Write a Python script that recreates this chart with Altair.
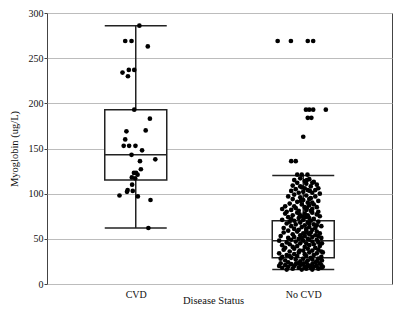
import altair as alt
import pandas as pd

FONT = "Liberation Serif"

groups = ["CVD", "No CVD"]
group_pos = [0.5, 1.5]

# box-plot summary
whisker_low = [62, 16]
q1 = [115, 29]
median = [143, 48]
q3 = [193, 70]
whisker_high = [286, 120]

# individual observations (value, horizontal jitter in box half-widths)
cvd_values = [286, 269, 269, 263, 237, 237, 234, 230, 193, 183, 170, 169, 160, 153, 153, 153, 148,
              143, 138, 136, 127, 123, 123, 121, 118, 117, 110, 104, 102, 103, 98, 97, 93, 62]
cvd_jitter = [0.12, -0.35, -0.14, 0.40, -0.23, -0.05, -0.44, -0.26, -0.05, 0.47, 0.33, -0.31, -0.35,
              -0.40, -0.22, -0.01, 0.21, -0.14, 0.65, 0.14, 0.17, -0.06, 0.01, 0.06, -0.13, -0.02,
              -0.12, -0.27, -0.29, -0.10, -0.54, 0.07, 0.49, 0.42]

nocvd_points = [
    (269, -0.85), (269, -0.41), (269, 0.15), (269, 0.33),
    (193, 0.09), (193, 0.20), (193, 0.33), (193, 0.75), (184, 0.15), (184, 0.27), (163, 0.0),
    (136, -0.40), (136, -0.25), (121, -0.20), (121, -0.05), (121, 0.14),
    (117, -0.1), (116, 0.2), (115, -0.3), (114, 0.05), (113, 0.35), (112, -0.2), (111, 0.1),
    (110, 0.45), (109, -0.35), (108, 0.25), (107, -0.05), (106, 0.5), (105, -0.25), (104, 0.15),
    (104, 0.4), (103, -0.4), (102, 0.0), (101, 0.3), (101, -0.15), (100, 0.55), (112, 0.3),
    (108, -0.1), (106, 0.05), (103, 0.22), (115, 0.12),
    (99, -0.3), (98, 0.1), (97, 0.4), (97, -0.5), (96, -0.1), (95, 0.25), (94, -0.35), (93, 0.0),
    (92, 0.5), (91, -0.2), (90, 0.15), (89, -0.45), (88, 0.35), (88, -0.05), (87, 0.2), (86, -0.6),
    (85, 0.05), (85, 0.45), (84, -0.25), (83, 0.3), (82, -0.4), (82, 0.1), (81, -0.15), (80, 0.5),
    (80, -0.55), (90, 0.3), (86, -0.3), (84, 0.12), (94, 0.2), (92, -0.08), (83, -0.7), (81, 0.25),
    (79, -0.2), (79, 0.3), (78, -0.6), (78, 0.05), (77, 0.45), (76, -0.35), (76, 0.15), (75, -0.05),
    (75, 0.55), (74, -0.5), (73, 0.2), (73, -0.15), (72, 0.35), (71, -0.7), (71, 0.0), (70, 0.25),
    (70, -0.3), (69, 0.5), (68, -0.1), (68, 0.15), (67, -0.55), (66, 0.35), (66, -0.25), (65, 0.05),
    (64, 0.6), (64, -0.4), (63, 0.2), (63, -0.05), (62, -0.65), (62, 0.4), (61, 0.1), (61, -0.3),
    (60, 0.3), (60, -0.15), (74, 0.08), (69, -0.45), (65, 0.45), (77, -0.12), (72, -0.4), (67, 0.2),
    (59, -0.5), (59, 0.1), (58, 0.45), (58, -0.2), (57, 0.25), (57, -0.65), (56, 0.0), (56, 0.55),
    (55, -0.35), (55, 0.2), (54, -0.1), (54, 0.4), (53, -0.75), (53, 0.05), (52, 0.3), (52, -0.3),
    (51, 0.6), (51, -0.5), (50, 0.15), (50, -0.15), (49, 0.45), (49, -0.4), (48, 0.0), (48, -0.8),
    (47, 0.3), (47, -0.25), (46, 0.5), (46, -0.55), (45, 0.1), (45, -0.1), (44, 0.35), (44, -0.45),
    (43, 0.2), (43, -0.7), (42, 0.55), (42, -0.2), (41, 0.05), (41, -0.35), (40, 0.4), (40, -0.6),
    (57, 0.12), (53, 0.5), (49, 0.2), (45, 0.62), (51, -0.05),
    (39, 0.15), (39, -0.3), (38, 0.5), (38, -0.65), (37, 0.0), (37, 0.3), (36, -0.45), (36, 0.6),
    (35, -0.15), (35, 0.2), (34, -0.8), (34, 0.45), (33, -0.3), (33, 0.05), (32, 0.35), (32, -0.55),
    (31, 0.1), (31, -0.2), (30, 0.6), (30, -0.7), (29, 0.25), (29, -0.4), (28, 0.0), (28, 0.5),
    (27, -0.25), (27, 0.3), (26, -0.6), (26, 0.15), (25, 0.45), (25, -0.1), (35, 0.65), (31, -0.45),
    (28, -0.75), (37, -0.12), (26, 0.62),
    (24, -0.5), (24, 0.1), (24, 0.4), (23, -0.2), (23, 0.55), (23, -0.75), (22, 0.0), (22, 0.3),
    (22, -0.4), (21, 0.6), (21, -0.1), (21, -0.6), (20, 0.2), (20, -0.3), (20, 0.45), (20, -0.8),
    (19, 0.05), (19, -0.5), (19, 0.35), (18, -0.15), (18, 0.6), (18, -0.7), (18, 0.25), (17, -0.35),
    (17, 0.1), (17, 0.5), (16, -0.05), (16, -0.55), (16, 0.3), (19, 0.65), (22, -0.25), (21, 0.15),
]

y_ticks = [0, 50, 100, 150, 200, 250, 300]

# ---- tables ----
box_df = pd.DataFrame({
    "group": groups, "pos": group_pos, "lo": whisker_low, "q1": q1,
    "median": median, "q3": q3, "hi": whisker_high,
})
pts = [{"group": "CVD", "value": v, "jitter": j} for v, j in zip(cvd_values, cvd_jitter)]
pts += [{"group": "No CVD", "value": v, "jitter": j} for v, j in nocvd_points]
pts_df = pd.DataFrame(pts)

W, H = 345, 271
BOX_PX = 62
half_box_units = (BOX_PX / 2) / W * 2  # data units per box half-width

xscale = alt.Scale(domain=[0, 2], nice=False, zero=False)
yscale = alt.Scale(domain=[0, 300], nice=False)

x_axis = alt.Axis(
    values=group_pos, title="Disease Status",
    labelExpr="datum.value < 1 ? 'CVD' : 'No CVD'",
    grid=False, ticks=False, domain=False, labelPadding=5,
    titleX=166, titleY=19, titleBaseline="alphabetic", titleAlign="center",
)
y_axis = alt.Axis(
    values=y_ticks, title="Myoglobin (ug/L)", grid=True, gridColor="#bcbcbc",
    domain=False, tickSize=3, tickColor="#444", labelPadding=1, titlePadding=9,
)

base = alt.Chart(box_df)

whisk = base.mark_rule(color="#222", strokeWidth=1.5).encode(
    x=alt.X("pos:Q", scale=xscale, axis=x_axis),
    y=alt.Y("lo:Q", scale=yscale, axis=y_axis),
    y2="hi:Q",
)
box = base.mark_bar(size=BOX_PX, fill="white", stroke="#222", strokeWidth=1.5).encode(
    x=alt.X("pos:Q", scale=xscale),
    y=alt.Y("q1:Q", scale=yscale),
    y2="q3:Q",
)
med = base.mark_tick(orient="horizontal", size=BOX_PX, thickness=1.5, color="#222", opacity=1).encode(
    x=alt.X("pos:Q", scale=xscale), y=alt.Y("median:Q", scale=yscale))
cap_lo = base.mark_tick(orient="horizontal", size=BOX_PX, thickness=1.5, color="#222", opacity=1).encode(
    x=alt.X("pos:Q", scale=xscale), y=alt.Y("lo:Q", scale=yscale))
cap_hi = base.mark_tick(orient="horizontal", size=BOX_PX, thickness=1.5, color="#222", opacity=1).encode(
    x=alt.X("pos:Q", scale=xscale), y=alt.Y("hi:Q", scale=yscale))

points = alt.Chart(pts_df).transform_calculate(
    xp=f"(datum.group == 'CVD' ? 0.5 : 1.5) + datum.jitter * {half_box_units}"
).mark_circle(size=22, color="black", opacity=1).encode(
    x=alt.X("xp:Q", scale=xscale),
    y=alt.Y("value:Q", scale=yscale),
)

chart = alt.layer(whisk, box, med, cap_lo, cap_hi, points).properties(
    width=W, height=H,
    padding={"left": 39, "top": 5, "right": 1, "bottom": 21},
    autosize=alt.AutoSizeParams(type="none"),
).configure(
    font=FONT,
).configure_view(
    stroke="#444", strokeWidth=1,
).configure_axis(
    labelFont=FONT, titleFont=FONT, labelFontSize=10, titleFontSize=10.5,
    titleFontWeight="normal", labelColor="#111", titleColor="#111",
)

chart.save("out.html", embed_options={"renderer": "svg", "actions": False})
